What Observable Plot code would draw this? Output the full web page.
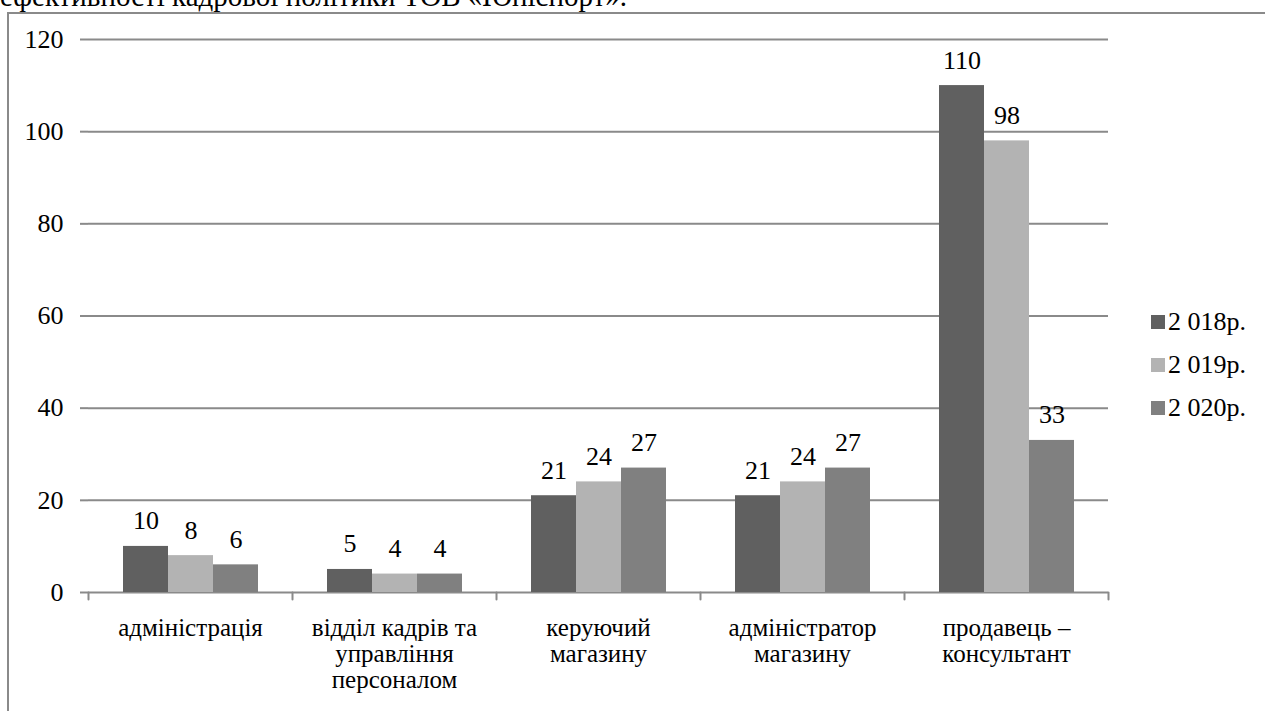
<!DOCTYPE html>
<html>
<head>
<meta charset="utf-8">
<script src="https://cdn.jsdelivr.net/npm/d3@7"></script>
<script src="https://cdn.jsdelivr.net/npm/@observablehq/plot@0.6"></script>
</head>
<body style="margin:0;padding:0;background:#fff;">
<div id="wrap" style="position:relative;width:1265px;height:711px;overflow:hidden;color:#000;font-family:'Liberation Serif', serif;">
  <div id="title" style="position:absolute;left:0;top:-18px;font-size:29px;line-height:29px;white-space:nowrap;font-family:'Liberation Serif', serif;">ефективності кадрової політики ТОВ «Юніспорт».</div>
  <div id="frame" style="position:absolute;left:7px;top:12px;width:1400px;height:800px;border-left:2px solid #8a8a8a;border-top:2px solid #8a8a8a;box-sizing:border-box;"></div>
  <div id="chart" style="position:absolute;left:0;top:0;"></div>
  <div id="legend" style="position:absolute;left:1151px;top:300px;font-size:26px;font-family:'Liberation Serif', serif;"></div>
</div>
<script>
const categories = [
  "адміністрація",
  "відділ кадрів та\nуправління\nперсоналом",
  "керуючий\nмагазину",
  "адміністратор\nмагазину",
  "продавець –\nконсультант"
];
const years = ["2 018р.", "2 019р.", "2 020р."];
const values2018 = [10, 5, 21, 21, 110];
const values2019 = [8, 4, 24, 24, 98];
const values2020 = [6, 4, 27, 27, 33];
const colors = ["#606060", "#b3b3b3", "#808080"];
const yTicks = [0, 20, 40, 60, 80, 100, 120];

const series = [values2018, values2019, values2020];
const rows = categories.flatMap((c, i) => years.map((y, j) => ({category: c, year: y, value: series[j][i]})));

const gray = "#8a8a8a";
const serif = "'Liberation Serif', serif";
const tickShape = {draw(context, l) { context.moveTo(0, 0); context.lineTo(0, -l); }};

const chart = Plot.plot({
  width: 1265,
  height: 711,
  marginLeft: 88,
  marginRight: 157,
  marginTop: 39,
  marginBottom: 119,
  style: {fontFamily: serif, fontSize: "26px", color: "#000", background: "transparent", overflow: "visible"},
  fx: {domain: categories, padding: 0, label: null},
  x: {domain: years, paddingInner: 0, paddingOuter: 0.75, axis: null},
  y: {domain: [0, 120], label: null},
  color: {domain: years, range: colors},
  marks: [
    Plot.ruleY(yTicks, {stroke: gray, strokeWidth: 2}),
    Plot.axisY({ticks: yTicks, tickSize: 8, tickPadding: 17, label: null, stroke: gray, strokeWidth: 2, strokeOpacity: 1, fontSize: 26, line: true}),
    Plot.axisFx({anchor: "bottom", tickSize: 0, tickPadding: 25, label: null, fontSize: 25, lineHeight: 1.04}),
    Plot.vector(categories, {fx: d => d, frameAnchor: "bottom-left", length: 7, rotate: 180, anchor: "start", shape: tickShape, stroke: gray, strokeWidth: 2}),
    Plot.vector(categories.slice(-1), {fx: d => d, frameAnchor: "bottom-right", length: 7, rotate: 180, anchor: "start", shape: tickShape, stroke: gray, strokeWidth: 2}),
    Plot.barY(rows, {fx: "category", x: "year", y: "value", fill: "year"}),
    Plot.text(rows, {fx: "category", x: "year", y: "value", text: "value", lineAnchor: "bottom", dy: -17, fontSize: 26, fill: "#000"})
  ]
});
chart.querySelectorAll("text, tspan, g").forEach(el => el.style.setProperty("font-family", serif, "important"));
document.getElementById("chart").appendChild(chart);

const legend = document.getElementById("legend");
years.forEach((y, i) => {
  const row = document.createElement("div");
  row.setAttribute("style", "display:flex;align-items:center;height:43px;font-family:'Liberation Serif', serif;");
  const sw = document.createElement("span");
  sw.setAttribute("style", `display:inline-block;width:14px;height:14px;margin-right:3px;background:${colors[i]};`);
  const t = document.createElement("span");
  t.setAttribute("style", "font-family:'Liberation Serif', serif;");
  t.textContent = y;
  row.appendChild(sw);
  row.appendChild(t);
  legend.appendChild(row);
});
</script>
</body>
</html>
